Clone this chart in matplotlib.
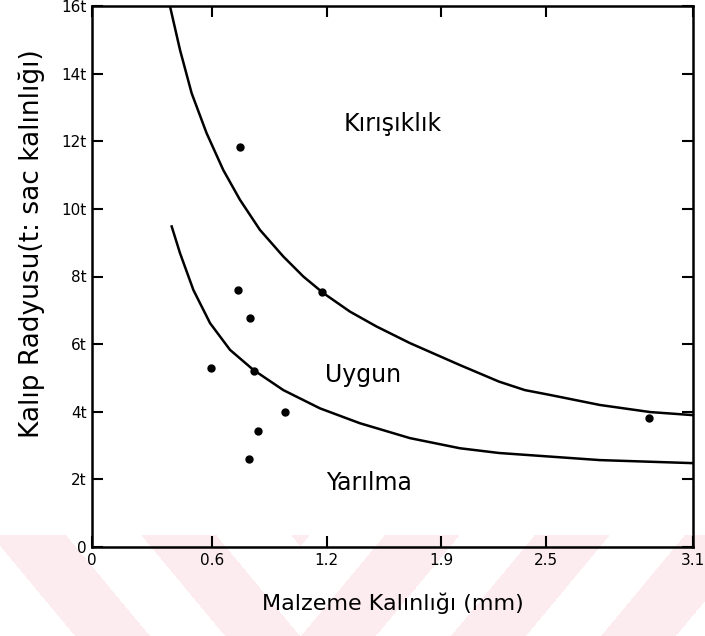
import numpy as np
import matplotlib.pyplot as plt
from matplotlib.colors import ListedColormap

upper_x = [0.402, 0.454, 0.514, 0.591, 0.677, 0.763, 0.866, 0.987, 1.090, 1.193, 1.331, 1.468,
           1.640, 1.898, 2.10, 2.233, 2.36, 2.62, 2.88, 3.10]
upper_y = [16.0, 14.70, 13.42, 12.24, 11.15, 10.27, 9.38, 8.59, 8.00, 7.51, 6.96, 6.52,
           6.03, 5.38, 4.89, 4.64, 4.50, 4.20, 3.99, 3.90]
lower_x = [0.411, 0.454, 0.523, 0.609, 0.712, 0.832, 0.987, 1.176, 1.382, 1.640, 1.898, 2.10,
           2.62, 3.10]
lower_y = [9.48, 8.69, 7.60, 6.62, 5.83, 5.24, 4.64, 4.10, 3.66, 3.22, 2.92, 2.78,
           2.57, 2.48]
pts_x = [0.763, 0.751, 0.815, 1.188, 0.614, 0.837, 0.995, 0.858, 0.811, 2.873]
pts_y = [11.84, 7.60, 6.78, 7.54, 5.30, 5.21, 4.00, 3.44, 2.60, 3.82]

xtick_pos = [0, 0.62, 1.21, 1.80, 2.34, 3.1]
xtick_lab = ["0", "0.6", "1.2", "1.9", "2.5", "3.1"]
ytick_pos = [0, 2, 4, 6, 8, 10, 12, 14, 16]
ytick_lab = ["0", "2t", "4t", "6t", "8t", "10t", "12t", "14t", "16t"]

regions = ["Kırışıklık", "Uygun", "Yarılma"]
region_xy = [(1.55, 12.5), (1.40, 5.1), (1.43, 1.9)]

W, H = 705, 636
fig = plt.figure(figsize=(W / 100, H / 100), dpi=100)

# faint pink watermark stripes along the bottom of the scan
bg = fig.add_axes([0, 0, 1, 1], zorder=-1)
yy, xx = np.mgrid[0:H, 0:W]
v = np.abs(xx - 300) + 0.83 * (yy - 535)
mask = (((v - 84) % 150) < 75) & (yy >= 535)
bg.imshow(mask, cmap=ListedColormap(["white", "#fdecef"]), aspect="auto",
          interpolation="nearest", extent=(0, W, H, 0))
bg.axis("off")

ax = fig.add_axes([92 / W, 1 - 547 / H, (693 - 92) / W, (547 - 6) / H])
ax.patch.set_alpha(0)
ax.plot(upper_x, upper_y, color="black", lw=1.8)
ax.plot(lower_x, lower_y, color="black", lw=1.8)
ax.plot(pts_x, pts_y, "o", color="black", ms=5)

for name, (tx, ty) in zip(regions, region_xy):
    ax.text(tx, ty, name, fontsize=17, ha="center", va="center")

ax.set_xlim(0, 3.1)
ax.set_ylim(0, 16)
ax.set_xticks(xtick_pos)
ax.set_xticklabels(xtick_lab)
ax.set_yticks(ytick_pos)
ax.set_yticklabels(ytick_lab)
ax.tick_params(direction="in", length=8, width=1.5, labelsize=11,
               top=True, right=True, pad=4)
for sp in ax.spines.values():
    sp.set_linewidth(1.8)

ax.set_xlabel("Malzeme Kalınlığı (mm)", fontsize=16)
ax.xaxis.set_label_coords(0.50, -0.085)
ax.set_ylabel("Kalıp Radyusu(t: sac kalınlığı)", fontsize=19)
ax.yaxis.set_label_coords(-0.078, 0.56)

fig.savefig("out.png", dpi=100)
